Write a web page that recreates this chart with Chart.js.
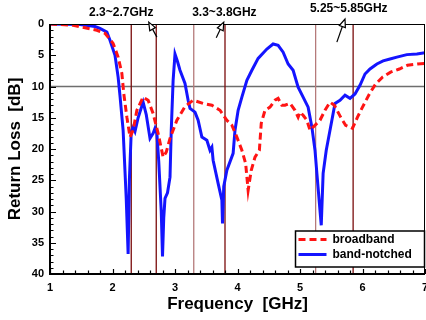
<!DOCTYPE html>
<html><head><meta charset="utf-8">
<script src="https://cdn.jsdelivr.net/npm/chart.js@4/dist/chart.umd.min.js"></script>
<style>html,body{margin:0;padding:0;background:#fff;}canvas{display:block;}</style>
</head><body>
<canvas id="c" width="426" height="320"></canvas>
<script>
// ---- data ----
const seriesNames = ['broadband', 'band-notched'];
const freqBroad = [1.0,1.37,1.75,1.88,2.01,2.09,2.15,2.18,2.23,2.28,2.33,2.39,2.49,2.57,2.65,2.73,2.81,2.86,2.92,3.03,3.16,3.29,3.45,3.59,3.72,3.83,3.91,3.99,4.07,4.13,4.17,4.22,4.28,4.35,4.38,4.44,4.52,4.60,4.65,4.71,4.76,4.84,4.92,4.97,5.00,5.05,5.11,5.16,5.21,5.32,5.40,5.48,5.55,5.65,5.73,5.84,5.92,6.00,6.11,6.21,6.32,6.45,6.59,6.72,6.88,7.0];
const lossBroad = [0,0.2,1.0,1.5,3.1,5.3,7.9,11.1,14.9,18.1,17.0,13.8,11.7,12.2,14.3,17.5,21.3,20.5,18.3,15.4,13.2,12.2,12.7,13.0,13.8,15.4,16.2,18.1,20.2,22.3,26.6,23.4,21.3,20.2,15.9,13.8,13.3,12.2,11.9,13.0,13.0,12.7,13.8,14.9,14.1,14.6,15.4,17.0,16.5,15.4,13.8,12.5,13.0,14.9,16.2,16.7,14.9,13.3,11.2,9.6,8.5,7.7,7.2,6.6,6.4,6.3];
const freqNotch = [1.0,1.48,1.72,1.80,1.91,1.96,2.04,2.09,2.12,2.17,2.22,2.25,2.27,2.30,2.33,2.36,2.41,2.49,2.54,2.60,2.65,2.68,2.71,2.74,2.78,2.80,2.82,2.84,2.88,2.92,2.94,2.97,3.00,3.04,3.08,3.16,3.21,3.24,3.32,3.37,3.43,3.51,3.56,3.59,3.61,3.69,3.75,3.76,3.78,3.83,3.93,3.96,4.01,4.07,4.15,4.23,4.33,4.47,4.57,4.65,4.73,4.81,4.89,4.97,5.05,5.13,5.19,5.24,5.27,5.34,5.37,5.42,5.45,5.51,5.56,5.64,5.72,5.80,5.88,5.96,6.04,6.12,6.23,6.33,6.44,6.55,6.71,6.87,7.0];
const lossNotch = [0,0.1,0.4,0.7,1.3,2.6,5.0,8.5,11.5,17.0,28.0,36.8,25.0,17.2,16.5,17.2,15.0,12.5,14.5,18.3,17.5,16.7,17.5,22.0,30.0,37.2,31.0,27.9,27.0,24.5,17.0,9.0,4.8,6.0,7.4,9.5,12.2,13.5,14.1,15.4,18.1,18.6,20.2,19.7,21.8,25.5,28.2,31.9,26.0,23.4,20.7,17.0,13.8,11.7,9.0,7.4,5.5,4.0,3.2,3.4,4.5,6.4,7.4,10.1,11.7,13.3,16.5,20.2,23.9,32.2,23.9,20.2,18.6,15.4,12.7,12.2,11.4,11.9,11.2,9.8,8.0,7.2,6.4,5.9,5.6,5.3,4.9,4.8,4.6];
const xTicks = [1,2,3,4,5,6,7];
const yTicks = [0,5,10,15,20,25,30,35,40];
const bandEdges = [2.3,2.7,3.3,3.8,5.25,5.85];
const bandLabels = ['2.3~2.7GHz','3.3~3.8GHz','5.25~5.85GHz'];
const refLevel = 10;

// ---- styling / helpers ----
const FAM = '"Liberation Sans", Arial, Helvetica, sans-serif';
const RED = 'rgb(255,20,20)';
const BLUE = 'rgb(20,20,255)';

function pts(xs, ys){ return xs.map((v,i)=>({x:v, y:ys[i]})); }

function drawArrow(ctx, x1, y1, x2, y2){
  const ang = Math.atan2(y2-y1, x2-x1);
  const L = 8, W = 3.2;
  const bx = x2 - L*Math.cos(ang), by = y2 - L*Math.sin(ang);
  ctx.beginPath(); ctx.moveTo(x1,y1); ctx.lineTo(bx,by); ctx.stroke();
  const px = -Math.sin(ang), py = Math.cos(ang);
  ctx.beginPath();
  ctx.moveTo(x2,y2);
  ctx.lineTo(bx+px*W, by+py*W);
  ctx.lineTo(bx-px*W, by-py*W);
  ctx.closePath();
  ctx.fillStyle='#fff'; ctx.fill(); ctx.stroke();
}

const deco = {
  id: 'deco',
  beforeDatasetsDraw(chart){
    const {ctx, chartArea:a, scales:{x, y}} = chart;
    ctx.save();
    // reference level line
    ctx.strokeStyle = '#6e6e6e'; ctx.lineWidth = 1.5;
    const yr = y.getPixelForValue(refLevel);
    ctx.beginPath(); ctx.moveTo(a.left, yr); ctx.lineTo(a.right, yr); ctx.stroke();
    // band edge lines
    ctx.lineWidth = 1.3;
    bandEdges.forEach((f,i)=>{
      ctx.strokeStyle = (i===2 || i===4) ? '#b57a7a' : '#7a0c0c';
      const xp = x.getPixelForValue(f);
      ctx.beginPath(); ctx.moveTo(xp, a.top); ctx.lineTo(xp, a.bottom); ctx.stroke();
    });
    ctx.restore();
  },
  afterDatasetsDraw(chart){
    const {ctx, chartArea:a, scales:{x, y}} = chart;
    ctx.save();
    ctx.strokeStyle = '#000';
    // frame
    ctx.lineWidth = 1;
    ctx.beginPath(); ctx.moveTo(a.left, a.top+0.5); ctx.lineTo(a.right, a.top+0.5);
    ctx.moveTo(a.right-0.5, a.top); ctx.lineTo(a.right-0.5, a.bottom); ctx.stroke();
    ctx.lineWidth = 2;
    ctx.beginPath(); ctx.moveTo(a.left, a.top); ctx.lineTo(a.left, a.bottom+1);
    ctx.moveTo(a.left-1, a.bottom); ctx.lineTo(a.right, a.bottom); ctx.stroke();
    // ticks (inward)
    ctx.lineWidth = 1.2;
    ctx.beginPath();
    for (let v = 0; v <= 40; v += 1){
      const yp = Math.round(y.getPixelForValue(v)) + 0.5;
      const len = (v % 5 === 0) ? 6 : 3.5;
      ctx.moveTo(a.left, yp); ctx.lineTo(a.left+len, yp);
    }
    for (let k = 0; k <= 30; k++){
      const v = 1 + k*0.2;
      const xp = Math.round(x.getPixelForValue(v)) + 0.5;
      const len = (k % 5 === 0) ? 5 : 3.5;
      ctx.moveTo(xp, a.bottom); ctx.lineTo(xp, a.bottom-len);
    }
    ctx.stroke();

    // band annotations
    ctx.fillStyle = '#000';
    ctx.font = 'bold 12px ' + FAM;
    ctx.textAlign = 'center'; ctx.textBaseline = 'middle';
    const lab = [[2.14,-1.85],[3.79,-1.85],[5.78,-2.45]];
    bandLabels.forEach((t,i)=>{
      ctx.fillText(t, x.getPixelForValue(lab[i][0]), y.getPixelForValue(lab[i][1]));
    });
    const arr = [[2.71,2.1,2.58,-0.3],[3.66,2.2,3.78,-0.3],[5.59,2.9,5.72,-0.8]];
    ctx.lineWidth = 1.2; ctx.strokeStyle = '#000';
    arr.forEach(r=>{
      drawArrow(ctx, x.getPixelForValue(r[0]), y.getPixelForValue(r[1]), x.getPixelForValue(r[2]), y.getPixelForValue(r[3]));
    });

    // legend box
    const bx = a.right - 129.5, by = a.bottom - 43, bw = 129, bh = 36;
    ctx.fillStyle = '#fff';
    ctx.fillRect(bx, by, bw, bh);
    ctx.lineWidth = 1.5; ctx.strokeStyle = '#000';
    ctx.strokeRect(bx, by, bw, bh);
    const items = [[RED,[7,4]],[BLUE,[]]];
    ctx.font = 'bold 12px ' + FAM;
    ctx.textAlign = 'left';
    items.forEach((it,i)=>{
      const yy = by + 8.5 + i*15;
      ctx.strokeStyle = it[0]; ctx.lineWidth = 3; ctx.setLineDash(it[1]);
      ctx.beginPath(); ctx.moveTo(bx+3, yy); ctx.lineTo(bx+31, yy); ctx.stroke();
      ctx.setLineDash([]);
      ctx.fillStyle = '#000';
      ctx.fillText(seriesNames[i], bx+37, yy+0.5);
    });
    ctx.restore();
  }
};

new Chart(document.getElementById('c'), {
  type: 'line',
  data: {
    datasets: [
      { label: seriesNames[0], data: pts(freqBroad, lossBroad), borderColor: RED, borderWidth: 3, borderDash: [7,4], pointRadius: 0, tension: 0, fill: false },
      { label: seriesNames[1], data: pts(freqNotch, lossNotch), borderColor: BLUE, borderWidth: 3, pointRadius: 0, tension: 0, fill: false }
    ]
  },
  options: {
    responsive: false, animation: false, devicePixelRatio: 1,
    layout: { padding: { top: 24, right: 1, left: 0, bottom: 0 } },
    plugins: { legend: { display: false }, tooltip: { enabled: false } },
    scales: {
      x: {
        type: 'linear', min: 1, max: 7,
        grid: { display: false, drawTicks: false }, border: { display: false },
        afterBuildTicks: s => { s.ticks = xTicks.map(v=>({value:v})); },
        ticks: { color: '#000', font: { family: FAM, size: 11, weight: 'bold' }, padding: 7, maxRotation: 0, autoSkip: false },
        title: { display: true, text: 'Frequency  [GHz]', color: '#000', font: { family: FAM, size: 17, weight: 'bold' }, padding: { top: 0, bottom: 5 } },
        afterFit: s => { s.height = 46; s.paddingLeft = 0; s.paddingRight = 0; }
      },
      y: {
        type: 'linear', min: 0, max: 40, reverse: true,
        grid: { display: false, drawTicks: false }, border: { display: false },
        afterBuildTicks: s => { s.ticks = yTicks.map(v=>({value:v})); },
        ticks: { color: '#000', font: { family: FAM, size: 11, weight: 'bold' }, padding: 6, autoSkip: false },
        title: { display: true, text: 'Return Loss  [dB]', color: '#000', font: { family: FAM, size: 17, weight: 'bold' }, padding: { top: 5, bottom: 0 } },
        afterFit: s => { s.width = 50; s.paddingTop = 0; s.paddingBottom = 0; }
      }
    }
  },
  plugins: [deco]
});
</script>
</body></html>
